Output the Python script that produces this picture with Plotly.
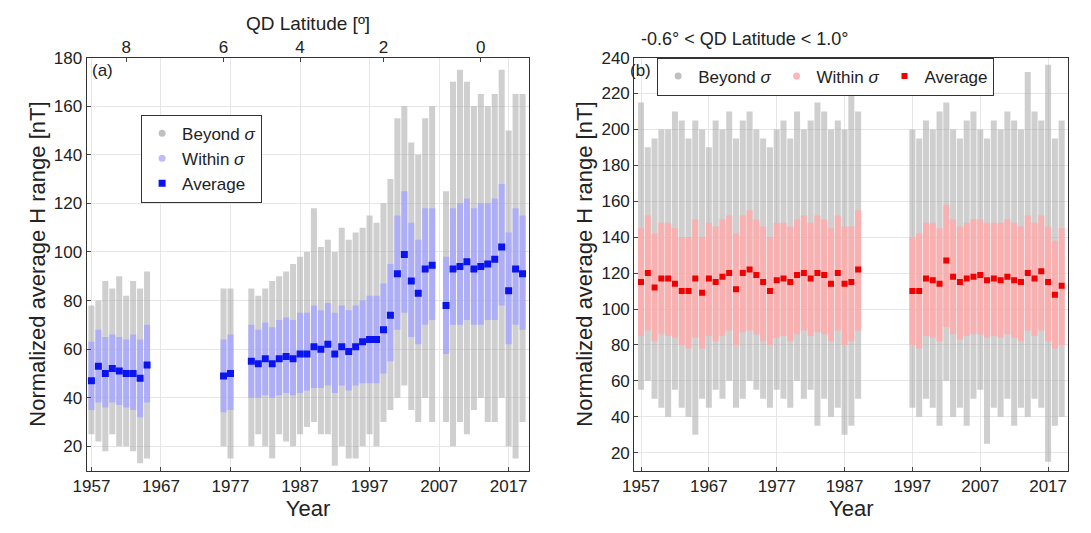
import plotly.graph_objects as go

# ---- panel (a) ----
years_a = [1957, 1958, 1959, 1960, 1961, 1962, 1963, 1964, 1965, 1976, 1977,
           1980, 1981, 1982, 1983, 1984, 1985, 1986, 1987, 1988, 1989, 1990,
           1991, 1992, 1993, 1994, 1995, 1996, 1997, 1998, 1999, 2000, 2001,
           2002, 2003, 2004, 2005, 2006, 2008, 2009, 2010, 2011, 2012, 2013,
           2014, 2015, 2016, 2017, 2018, 2019]
avg_a = [47, 53, 50, 52, 51, 50, 50, 48, 53.5, 49, 50,
         55, 54, 56, 54, 56, 57, 56, 58, 58, 61, 60,
         62, 58, 61, 59, 61, 63, 64, 64, 68, 74, 91,
         99, 88, 83, 93, 94.5, 78, 93, 94, 96, 93, 94,
         95, 97, 102, 84, 93, 91]
win_lo_a = [35, 38, 36, 38, 37, 36, 35, 32, 38, 34, 35,
            40, 40, 41, 40, 41, 42, 41, 42, 43, 44, 44,
            45, 42, 45, 43, 45, 46, 46, 46, 50, 55, 68,
            75, 65, 62, 70, 72, 58, 70, 70, 72, 70, 70,
            72, 72, 78, 62, 70, 68]
win_hi_a = [63, 68, 65, 66, 65, 64, 66, 64, 70, 64, 66,
            70, 68, 71, 69, 72, 73, 72, 75, 75, 78, 76,
            79, 75, 78, 76, 78, 80, 82, 82, 87, 95, 115,
            125, 112, 105, 118, 118, 98, 118, 120, 122, 118, 120,
            120, 122, 128, 108, 118, 115]
bey_lo_a = [25, 22, 18, 25, 20, 20, 18, 13, 15, 20, 15,
            20, 25, 20, 15, 25, 22, 20, 25, 28, 30, 25,
            25, 12, 20, 15, 15, 20, 25, 20, 30, 35, 40,
            45, 35, 30, 40, 30, 30, 20, 30, 25, 35, 40,
            30, 30, 40, 20, 15, 30]
bey_hi_a = [78, 80, 88, 85, 90, 82, 88, 85, 92, 85, 85,
            85, 82, 85, 88, 90, 92, 95, 98, 100, 118, 102,
            105, 100, 110, 105, 108, 110, 115, 112, 120, 130, 155,
            160, 145, 140, 155, 160, 125, 170, 175, 170, 160, 165,
            160, 165, 175, 150, 165, 165]

qd_lat_labels = ["8", "6", "4", "2", "0"]
qd_lat_years = [1962, 1976, 1987, 1999, 2013]

# ---- panel (b) ----
years_b = list(range(1957, 1990)) + list(range(1997, 2020))
avg_b = [115, 120, 112, 117, 117, 114, 110, 110, 117, 109, 117, 115, 118,
         120, 111, 120, 122, 119, 115, 110, 116, 117, 115, 119, 120, 117,
         120, 119, 114, 120, 114, 115, 122,
         110, 110, 117, 116, 114, 127, 118, 115, 117, 118, 119, 116, 117,
         116, 118, 116, 115, 120, 117, 121, 115, 108, 113]
win_lo_b = [85, 88, 82, 86, 85, 84, 80, 78, 84, 78, 85, 82, 85,
            88, 80, 87, 88, 86, 82, 80, 84, 85, 82, 86, 88, 85,
            87, 86, 82, 88, 80, 82, 88,
            80, 78, 85, 84, 82, 90, 86, 83, 85, 86, 86, 84, 85,
            84, 86, 84, 82, 88, 85, 88, 82, 78, 80]
win_hi_b = [145, 152, 142, 148, 148, 145, 140, 140, 150, 140, 148, 146, 150,
            152, 142, 152, 155, 150, 146, 140, 148, 148, 146, 150, 152, 148,
            152, 150, 145, 152, 146, 146, 155,
            140, 142, 148, 148, 145, 158, 150, 146, 148, 150, 150, 148, 148,
            148, 150, 148, 146, 152, 148, 152, 146, 138, 145]
bey_lo_b = [55, 60, 50, 45, 40, 55, 45, 40, 30, 50, 45, 55, 50,
            60, 45, 50, 60, 55, 50, 45, 55, 50, 45, 60, 50, 55,
            35, 50, 40, 45, 30, 35, 50,
            45, 40, 50, 45, 35, 60, 40, 45, 35, 50, 55, 25, 45,
            40, 50, 35, 45, 40, 50, 45, 15, 35, 40]
bey_hi_b = [215, 190, 195, 200, 200, 210, 205, 195, 205, 200, 190, 205, 200,
            210, 195, 205, 210, 200, 195, 190, 200, 205, 195, 210, 200, 205,
            215, 210, 200, 205, 200, 225, 210,
            200, 195, 205, 200, 210, 215, 200, 195, 205, 210, 200, 195, 205,
            200, 210, 205, 200, 232, 210, 205, 236, 195, 205]


def segments(xs, lo, hi):
    sx, sy = [], []
    for x, a, b in zip(xs, lo, hi):
        sx += [x, x, None]
        sy += [a, b, None]
    return sx, sy


fig = go.Figure()

# panel (a)
sx, sy = segments(years_a, bey_lo_a, bey_hi_a)
fig.add_trace(go.Scatter(x=sx, y=sy, mode="lines", showlegend=False,
                         line=dict(color="rgba(160,160,160,0.5)", width=6),
                         xaxis="x", yaxis="y"))
sx, sy = segments(years_a, win_lo_a, win_hi_a)
fig.add_trace(go.Scatter(x=sx, y=sy, mode="lines", showlegend=False,
                         line=dict(color="rgba(165,165,255,0.8)", width=6),
                         xaxis="x", yaxis="y"))
fig.add_trace(go.Scatter(x=years_a, y=avg_a, mode="markers", showlegend=False,
                         marker=dict(color="#0a14f0", size=7, symbol="square"),
                         xaxis="x", yaxis="y"))
# legend entries (a)
fig.add_trace(go.Scatter(x=[None], y=[None], mode="markers", name="Beyond <i>σ</i>",
                         marker=dict(color="rgba(150,150,150,0.6)", size=7), legend="legend"))
fig.add_trace(go.Scatter(x=[None], y=[None], mode="markers", name="Within <i>σ</i>",
                         marker=dict(color="rgba(160,160,255,0.7)", size=7), legend="legend"))
fig.add_trace(go.Scatter(x=[None], y=[None], mode="markers", name="Average",
                         marker=dict(color="#0a14f0", size=7, symbol="square"), legend="legend"))
# top QD latitude axis
fig.add_trace(go.Scatter(x=qd_lat_years, y=[None] * len(qd_lat_years), mode="markers",
                         showlegend=False, xaxis="x3", yaxis="y"))

# panel (b)
sx, sy = segments(years_b, bey_lo_b, bey_hi_b)
fig.add_trace(go.Scatter(x=sx, y=sy, mode="lines", showlegend=False,
                         line=dict(color="rgba(160,160,160,0.5)", width=6),
                         xaxis="x2", yaxis="y2"))
sx, sy = segments(years_b, win_lo_b, win_hi_b)
fig.add_trace(go.Scatter(x=sx, y=sy, mode="lines", showlegend=False,
                         line=dict(color="rgba(255,170,170,0.85)", width=6),
                         xaxis="x2", yaxis="y2"))
fig.add_trace(go.Scatter(x=years_b, y=avg_b, mode="markers", showlegend=False,
                         marker=dict(color="#f00000", size=6, symbol="square"),
                         xaxis="x2", yaxis="y2"))
fig.add_trace(go.Scatter(x=[None], y=[None], mode="markers", name="Beyond <i>σ</i>",
                         marker=dict(color="rgba(150,150,150,0.6)", size=7), legend="legend2"))
fig.add_trace(go.Scatter(x=[None], y=[None], mode="markers", name="Within <i>σ</i>",
                         marker=dict(color="rgba(255,165,165,0.8)", size=7), legend="legend2"))
fig.add_trace(go.Scatter(x=[None], y=[None], mode="markers", name="Average",
                         marker=dict(color="#f00000", size=6, symbol="square"), legend="legend2"))

ax = dict(showline=True, linecolor="#333", mirror=True, showgrid=True,
          gridcolor="#e6e6e6", zeroline=False, ticks="inside", ticklen=4,
          automargin=False, tickfont=dict(size=17, color="#222"))
xt = [1957, 1967, 1977, 1987, 1997, 2007, 2017]
ydom = [0.132, 0.907]

fig.update_layout(
    width=1091, height=533, plot_bgcolor="white", paper_bgcolor="white",
    font=dict(family="Liberation Sans, Arial", color="#222"),
    margin=dict(l=0, r=0, t=0, b=0),
    xaxis=dict(ax, domain=[0.072, 0.478], range=[1956.3, 2020], tickvals=xt,
               title=dict(text="Year", font=dict(size=22), standoff=4), anchor="y"),
    yaxis=dict(ax, domain=ydom, range=[10, 180], dtick=20,
               title=dict(text="Normalized average H range [nT]", font=dict(size=22), standoff=2),
               anchor="x"),
    xaxis3=dict(overlaying="x", side="top", anchor="y", range=[1956.3, 2020],
                tickvals=qd_lat_years, ticktext=qd_lat_labels, showgrid=False,
                automargin=False, ticks="inside", ticklen=4,
                tickfont=dict(size=17, color="#222"),
                title=dict(text="QD Latitude [º]", font=dict(size=19), standoff=2)),
    xaxis2=dict(ax, domain=[0.574, 0.972], range=[1956, 2020], tickvals=xt,
                title=dict(text="Year", font=dict(size=22), standoff=4), anchor="y2"),
    yaxis2=dict(ax, domain=ydom, range=[10, 240], dtick=20,
                title=dict(text="Normalized average H range [nT]", font=dict(size=22), standoff=2),
                anchor="x2"),
    legend=dict(x=0.122, y=0.8, xanchor="left", yanchor="top", bordercolor="#333",
                borderwidth=1, bgcolor="white", font=dict(size=17), tracegroupgap=0),
    legend2=dict(x=0.595, y=0.907, xanchor="left", yanchor="top", orientation="h",
                 bordercolor="#333", borderwidth=1, bgcolor="white", font=dict(size=17)),
    annotations=[
        dict(text="(a)", xref="paper", yref="paper", x=0.075, y=0.904, showarrow=False,
             xanchor="left", yanchor="top", font=dict(size=17)),
        dict(text="(b)", xref="paper", yref="paper", x=0.568, y=0.904, showarrow=False,
             xanchor="left", yanchor="top", font=dict(size=17)),
        dict(text="-0.6° < QD Latitude < 1.0°", xref="paper", yref="paper", x=0.773, y=0.92,
             showarrow=False, yanchor="bottom", font=dict(size=18)),
    ],
)

fig.write_html("out.html")
